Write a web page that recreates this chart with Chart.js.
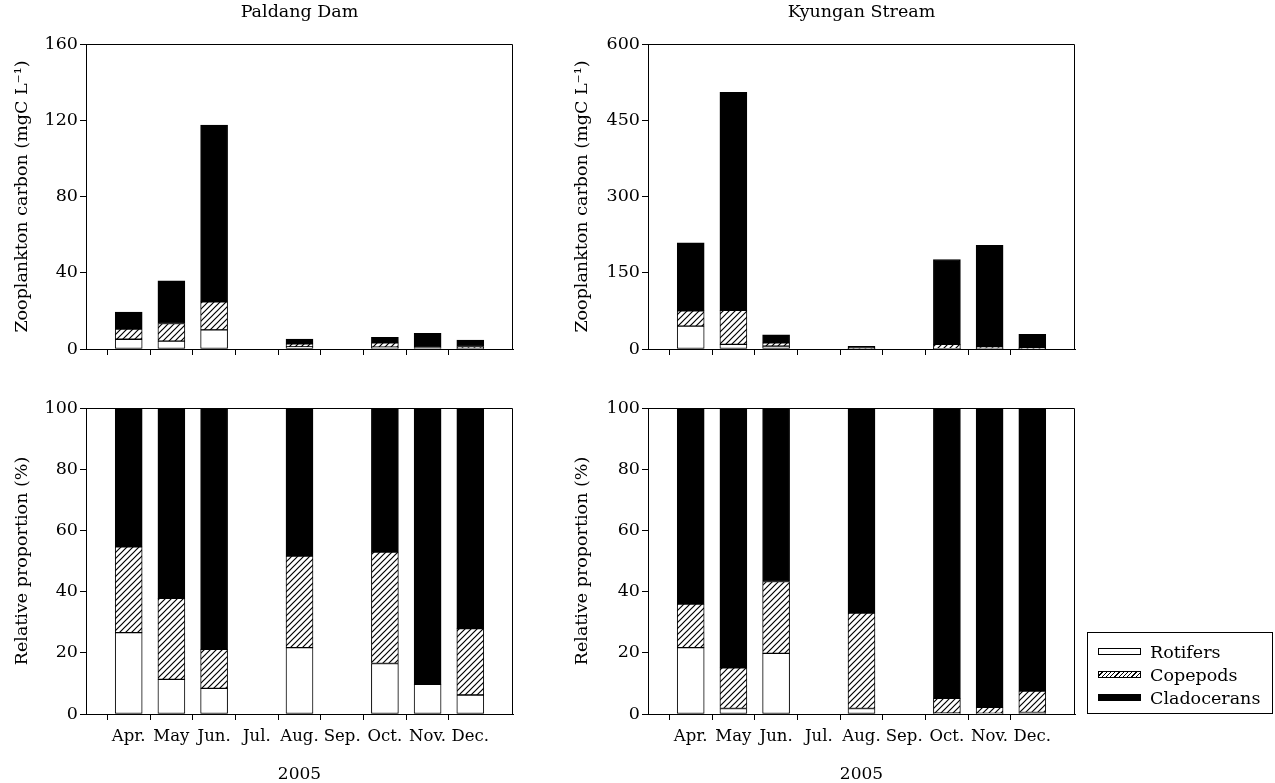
<!DOCTYPE html>
<html>
<head>
<meta charset="utf-8">
<script src="https://cdn.jsdelivr.net/npm/chart.js@4.4.1/dist/chart.umd.min.js"></script>
<style>
  body { margin: 0; background: #fff; }
  #wrap { position: relative; width: 1275px; height: 783px; background: #fff; font-family: "DejaVu Serif", serif; }
  canvas { position: absolute; }
  #legend { position: absolute; left: 1087px; top: 632px; width: 186px; height: 82px; box-sizing: border-box;
            border: 1px solid #000; font-size: 17.5px; color: #000; padding-top: 7px; }
  #legend div.row { height: 23px; display: flex; align-items: center; padding-left: 10px; }
  #legend span.sw { display: inline-block; width: 43px; height: 7px; box-sizing: border-box; border: 1px solid #000; margin-right: 9px; }
</style>
</head>
<body>
<div id="wrap">
  <canvas id="tl" width="599" height="380" style="left:0;top:0"></canvas>
  <canvas id="tr" width="603" height="380" style="left:560px;top:0"></canvas>
  <canvas id="bl" width="599" height="403" style="left:0;top:380px"></canvas>
  <canvas id="br" width="603" height="403" style="left:560px;top:380px"></canvas>
  <div id="legend">
    <div class="row"><span class="sw" style="background:#fff"></span>Rotifers</div>
    <div class="row"><span class="sw" style="background:repeating-linear-gradient(135deg,#fff 0 2px,#000 2px 3px)"></span>Copepods</div>
    <div class="row"><span class="sw" style="background:#000"></span>Cladocerans</div>
  </div>
</div>
<script>
// months, with an empty slot on each side of the axis
const months = ['', 'Apr.', 'May', 'Jun.', 'Jul.', 'Aug.', 'Sep.', 'Oct.', 'Nov.', 'Dec.', ''];
const groups = ['Rotifers', 'Copepods', 'Cladocerans'];

// zooplankton carbon, mgC L-1
const paldangRotifers    = [null, 5.1, 4.1, 10.0, null, 1.1, null, 1.0, 0.8, 0.3, null];
const paldangCopepods    = [null, 5.4, 9.3, 14.8, null, 1.6, null, 2.2, 0, 1.0, null];
const paldangCladocerans = [null, 8.9, 22.3, 92.7, null, 2.5, null, 2.9, 7.4, 3.4, null];

const kyunganRotifers    = [null, 45, 9, 5.5, null, 0.1, null, 0.5, 0.3, 0.1, null];
const kyunganCopepods    = [null, 30, 67, 6.5, null, 1.6, null, 8.5, 4.2, 2.0, null];
const kyunganCladocerans = [null, 134, 429, 16, null, 3.5, null, 167, 199.5, 26.6, null];

// relative proportion, %
const paldangRotPct = [null, 26.6, 11.3, 8.4, null, 21.7, null, 16.5, 9.7, 6.2, null];
const paldangCopPct = [null, 28.0, 26.5, 12.7, null, 29.9, null, 36.4, 0, 21.7, null];
const paldangClaPct = [null, 45.4, 62.2, 78.9, null, 48.4, null, 47.1, 90.3, 72.1, null];

const kyunganRotPct = [null, 21.7, 1.8, 19.8, null, 1.8, null, 0.3, 0.2, 0.5, null];
const kyunganCopPct = [null, 14.2, 13.3, 23.5, null, 31.2, null, 4.8, 2.0, 7.0, null];
const kyunganClaPct = [null, 64.1, 84.9, 56.7, null, 67.0, null, 94.9, 97.8, 92.5, null];

const FONT = 'DejaVu Serif';

function hatch() {
  const c = document.createElement('canvas');
  c.width = 6; c.height = 6;
  const g = c.getContext('2d');
  g.fillStyle = '#fff';
  g.fillRect(0, 0, 6, 6);
  g.strokeStyle = '#000';
  g.lineWidth = 1.2;
  g.beginPath();
  g.moveTo(0, 6); g.lineTo(6, 0);
  g.moveTo(-1, 1); g.lineTo(1, -1);
  g.moveTo(5, 7); g.lineTo(7, 5);
  g.stroke();
  return g.createPattern(c, 'repeat');
}
const fills = ['#fff', hatch(), '#000'];

// top and right edges of the plot box
const frame = {
  id: 'frame',
  afterDraw(chart) {
    const { ctx, chartArea: a } = chart;
    const l = Math.round(a.left) + 0.5, r = Math.round(a.right) - 0.5, t = Math.round(a.top) + 0.5, b = Math.round(a.bottom);
    ctx.save();
    ctx.strokeStyle = '#000';
    ctx.lineWidth = 1;
    ctx.beginPath();
    ctx.moveTo(l, t); ctx.lineTo(r, t); ctx.lineTo(r, b);
    ctx.stroke();
    ctx.restore();
  }
};

// panel heading, centred over the plot box
const panelTitle = {
  id: 'panelTitle',
  afterDraw(chart, args, opts) {
    if (!opts.text) return;
    const { ctx, chartArea: a } = chart;
    ctx.save();
    ctx.font = `17.5px "${FONT}"`;
    ctx.fillStyle = '#000';
    ctx.textAlign = 'center';
    ctx.textBaseline = 'middle';
    ctx.fillText(opts.text, (a.left + a.right) / 2, opts.y);
    ctx.restore();
  }
};

function panel(id, series, cfg) {
  const edge = c => (c.index === 0 || c.index === months.length - 1) ? 'rgba(0,0,0,0)' : '#000';
  return new Chart(document.getElementById(id), {
    type: 'bar',
    data: {
      labels: months,
      datasets: series.map((d, i) => ({
        label: groups[i],
        data: d,
        backgroundColor: fills[i],
        borderColor: '#000',
        borderWidth: 1,
        borderSkipped: false,
        barThickness: 27
      }))
    },
    options: {
      responsive: false,
      animation: false,
      events: [],
      layout: { padding: { left: 0, right: cfg.padRight, top: cfg.padTop, bottom: 0 } },
      plugins: {
        legend: { display: false },
        tooltip: { enabled: false },
        panelTitle: { text: cfg.title, y: 12 }
      },
      scales: {
        x: {
          stacked: true,
          offset: false,
          grid: { drawOnChartArea: false, drawTicks: true, tickLength: 6, color: edge, tickColor: edge },
          border: { color: '#000', width: 1 },
          ticks: { display: cfg.labels, color: '#000', font: { family: FONT, size: 16.5 }, padding: 7, autoSkip: false, maxRotation: 0 },
          title: {
            display: cfg.labels, text: '2005', color: '#000',
            font: { family: FONT, size: 17, lineHeight: 1 }, padding: { top: 0, bottom: 0 }
          },
          afterFit: s => { s.height = cfg.xHeight; }
        },
        y: {
          stacked: true,
          min: 0,
          max: cfg.max,
          grid: { drawOnChartArea: false, drawTicks: true, tickLength: 6, color: '#000' },
          border: { color: '#000', width: 1 },
          ticks: { stepSize: cfg.step, color: '#000', font: { family: FONT, size: 17.5 }, padding: 2 },
          title: {
            display: true, text: cfg.yTitle, color: '#000',
            font: { family: FONT, size: 17.5 }, padding: { top: 12, bottom: 0 }
          },
          afterFit: s => { s.width = cfg.yWidth; }
        }
      }
    },
    plugins: [frame, panelTitle]
  });
}

const carbonTitle = 'Zooplankton carbon (mgC L\u207B\u00B9)';
const pctTitle = 'Relative proportion (%)';

panel('tl', [paldangRotifers, paldangCopepods, paldangCladocerans],
  { title: 'Paldang Dam', max: 160, step: 40, yTitle: carbonTitle, yWidth: 86, padRight: 86, padTop: 44, xHeight: 31, labels: false });
panel('tr', [kyunganRotifers, kyunganCopepods, kyunganCladocerans],
  { title: 'Kyungan Stream', max: 600, step: 150, yTitle: carbonTitle, yWidth: 88, padRight: 88, padTop: 44, xHeight: 31, labels: false });
panel('bl', [paldangRotPct, paldangCopPct, paldangClaPct],
  { title: '', max: 100, step: 20, yTitle: pctTitle, yWidth: 86, padRight: 86, padTop: 28, xHeight: 69, labels: true });
panel('br', [kyunganRotPct, kyunganCopPct, kyunganClaPct],
  { title: '', max: 100, step: 20, yTitle: pctTitle, yWidth: 88, padRight: 88, padTop: 28, xHeight: 69, labels: true });
</script>
</body>
</html>
